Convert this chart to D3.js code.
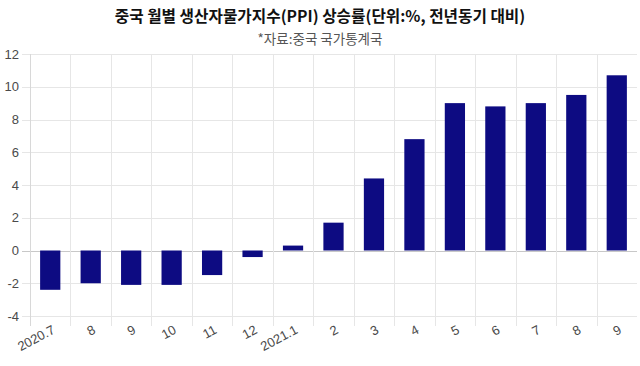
<!DOCTYPE html>
<html><head><meta charset="utf-8">
<script src="https://cdn.jsdelivr.net/npm/d3@7"></script>
<style>body{margin:0;background:#fff}svg{display:block}</style>
</head><body>
<svg id="c" width="640" height="366"></svg>
<script>
const categories = ["2020.7","8","9","10","11","12","2021.1","2","3","4","5","6","7","8","9"];
const ppiValues = [-2.4,-2.0,-2.1,-2.1,-1.5,-0.4,0.3,1.7,4.4,6.8,9.0,8.8,9.0,9.5,10.7];
const yTicks = [-4,-2,0,2,4,6,8,10,12];
const titleText = "중국 월별 생산자물가지수(PPI) 상승률(단위:%, 전년동기 대비)";
const subtitleText = "*자료:중국 국가통계국";

(function () {
const svg = d3.select("#c");
const pL = 30, pR = 637, pT = 54, pB = 316;
const x = d3.scaleBand().domain(d3.range(categories.length)).range([pL, pR]).padding(0);
const y = d3.scaleLinear().domain([-4, 12]).range([pB, pT]);
const font = "'Liberation Sans', Arial, sans-serif";
const kfont = "'Noto Sans CJK KR', sans-serif";

// horizontal grid
svg.append("g").selectAll("line").data(yTicks).join("line")
  .attr("x1", pL - 8).attr("x2", pR)
  .attr("y1", d => Math.round(y(d)) + 0.5).attr("y2", d => Math.round(y(d)) + 0.5)
  .attr("stroke", d => d === 0 ? "#c8c8c8" : "#e6e6e6").attr("stroke-width", 1);
// vertical grid
svg.append("g").selectAll("line").data(d3.range(categories.length)).join("line")
  .attr("x1", d => Math.round(x(d)) + 0.5).attr("x2", d => Math.round(x(d)) + 0.5)
  .attr("y1", pT).attr("y2", pB + 10)
  .attr("stroke", d => d === 0 ? "#d8d8d8" : "#e6e6e6").attr("stroke-width", 1);

// bars
const bw = x.bandwidth() * 0.5;
svg.append("g").selectAll("rect").data(ppiValues).join("rect")
  .attr("x", (d, i) => x(i) + (x.bandwidth() - bw) / 2)
  .attr("width", bw)
  .attr("y", d => y(Math.max(0, d)))
  .attr("height", d => Math.abs(y(d) - y(0)))
  .attr("fill", "#0d0b82");

// y labels
svg.append("g").selectAll("text").data(yTicks).join("text")
  .attr("x", 19).attr("y", d => y(d)).attr("dy", "0.35em")
  .attr("text-anchor", "end").attr("font-family", font).attr("font-size", 13)
  .attr("fill", "#4a4a4a").text(d => d);

// x labels
svg.append("g").selectAll("text").data(categories).join("text")
  .attr("transform", (d, i) => `translate(${x(i) + x.bandwidth() / 2 + 1},${pB + 8}) rotate(-28)`)
  .attr("dy", "0.75em")
  .attr("text-anchor", "end").attr("font-family", font).attr("font-size", 13)
  .attr("fill", "#4a4a4a").text(d => d);

// titles
svg.append("text").attr("x", 320).attr("y", 22).attr("text-anchor", "middle")
  .attr("font-family", kfont).attr("font-weight", "bold").attr("font-size", 15.7)
  .attr("fill", "#111").text(titleText);
svg.append("text").attr("x", 320).attr("y", 43.5).attr("text-anchor", "middle")
  .attr("font-family", kfont).attr("font-size", 13.5)
  .attr("fill", "#555").text(subtitleText);
})();
</script>
</body></html>
